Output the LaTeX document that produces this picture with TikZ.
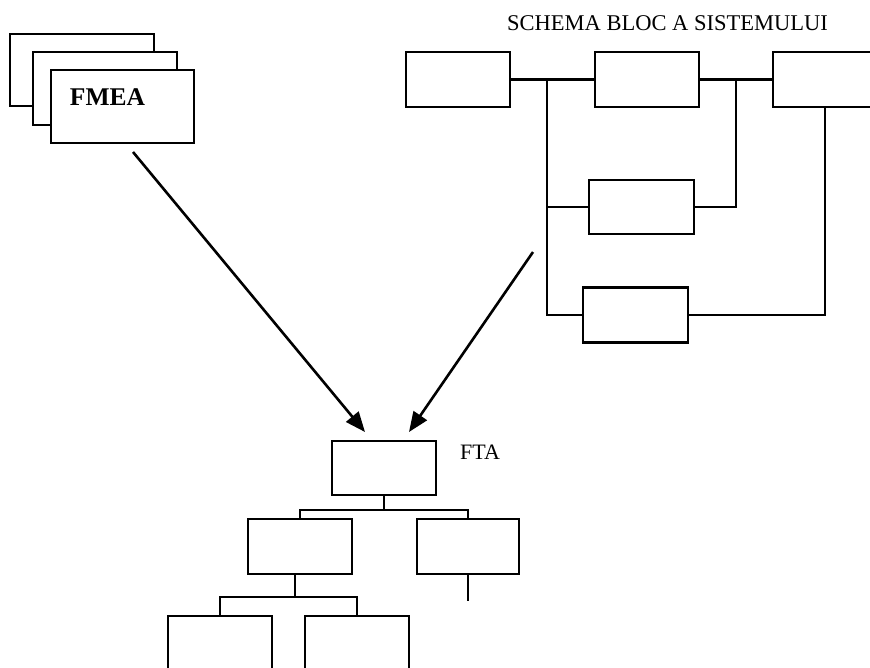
\documentclass[tikz,border=0pt]{standalone}
\usepackage{fontspec}
\setmainfont{Liberation Serif}
\usetikzlibrary{arrows.meta}
\begin{document}
\begin{tikzpicture}[x=1pt,y=-1pt,
  blk/.style={draw,line width=2.8pt,fill=white,inner sep=0pt},
  wire/.style={line width=2.8pt},
  thinwire/.style={line width=2pt},
  arr/.style={line width=2.6pt,-{Triangle[length=20pt,width=16pt]}}]
\useasboundingbox (0,0) rectangle (870,667);
\clip (0,0) rectangle (870,667);

% FMEA sheets, back to front
\node[blk,minimum width=144pt,minimum height=72pt] (F1) at (82,70) {};
\node[blk,minimum width=144pt,minimum height=73pt] (F2) at (105,88.5) {};
\node[blk,minimum width=143pt,minimum height=73pt] (F3) at (122.5,106.5) {};
\node[anchor=base,inner sep=0pt,font=\fontsize{25.5}{30}\selectfont\bfseries] (fmea) at (107.5,105) {FMEA};

% system block diagram
\node[anchor=base,inner sep=0pt,font=\fontsize{22.5}{27}\selectfont] (title) at (667.5,30) {SCHEMA BLOC A SISTEMULUI};
\node[blk,minimum width=104pt,minimum height=55pt] (A) at (458,79.5) {};
\node[blk,minimum width=104pt,minimum height=55pt] (B) at (647,79.5) {};
\node[blk,minimum width=104pt,minimum height=55pt] (C) at (825,79.5) {};
\node[blk,minimum width=105pt,minimum height=54pt] (D) at (641.5,207) {};
\node[blk,minimum width=105pt,minimum height=55pt] (E) at (635.5,315) {};
\coordinate (j1) at (547,79.5);
\coordinate (j2) at (736,79.5);
\draw[wire] (A.east) -- (B.west);
\draw[wire] (B.east) -- (C.west);
\draw[wire] (j1) |- (E.west);
\draw[wire] (j1 |- D.west) -- (D.west);
\draw[wire] (D.east) -| (j2);
\draw[thinwire] (E.east) -| (C.south);

% fault tree
\node[blk,minimum width=104pt,minimum height=54pt] (T) at (384,468) {};
\node[anchor=base west,inner sep=0pt,font=\fontsize{22}{26}\selectfont] (fta) at (460,459) {FTA};
\node[blk,minimum width=104pt,minimum height=55pt] (L) at (300,546.5) {};
\node[blk,minimum width=102pt,minimum height=55pt] (R) at (468,546.5) {};
\node[blk,minimum width=104pt,minimum height=90pt] (BL) at (220,661) {};
\node[blk,minimum width=104pt,minimum height=90pt] (BR) at (357,661) {};
\coordinate (tb) at (384,510);
\coordinate (lb) at (295,597);
\coordinate (rs) at (468,601);
\draw[wire] (T.south) -- (tb);
\draw[wire] (L.north) |- (tb) -| (R.north);
\draw[wire] (R.south) -- (rs);
\draw[wire] (L.south -| lb) -- (lb);
\draw[wire] (BL.north) |- (lb) -| (BR.north);

% inputs to the fault tree
\coordinate (s1) at (133,152);
\coordinate (s2) at (533,252);
\coordinate (t1) at (365,432);
\coordinate (t2) at (409,432);
\draw[arr] (s1) -- (t1);
\draw[arr] (s2) -- (t2);
\end{tikzpicture}
\end{document}
